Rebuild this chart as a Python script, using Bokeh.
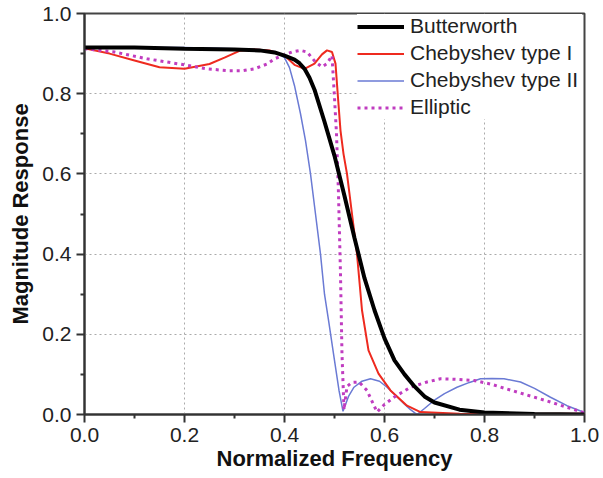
from bokeh.plotting import figure
from bokeh.models import Range1d, FixedTicker, Legend, LegendItem
from bokeh.embed import file_html
from bokeh.resources import INLINE

# Butterworth
bw_f = [0, 0.1, 0.2, 0.3, 0.35, 0.38, 0.40, 0.42, 0.43, 0.44, 0.45, 0.46, 0.48, 0.50, 0.52, 0.54,
        0.56, 0.58, 0.60, 0.62, 0.64, 0.66, 0.68, 0.70, 0.75, 0.80, 0.9, 1.0]
bw_m = [0.915, 0.915, 0.912, 0.91, 0.908, 0.903, 0.895, 0.885, 0.876, 0.862, 0.84, 0.81, 0.73, 0.645,
        0.545, 0.44, 0.34, 0.26, 0.19, 0.135, 0.10, 0.07, 0.045, 0.03, 0.012, 0.005, 0.001, 0.0]

# Chebyshev type I
c1_f = [0, 0.05, 0.1, 0.15, 0.2, 0.25, 0.28, 0.31, 0.34, 0.37, 0.4, 0.42, 0.44, 0.46,
        0.475, 0.485, 0.495, 0.502, 0.507, 0.512, 0.518, 0.525, 0.535, 0.545, 0.555,
        0.568, 0.588, 0.612, 0.645, 0.672, 0.75, 0.85, 1.0]
c1_m = [0.913, 0.900, 0.883, 0.866, 0.862, 0.874, 0.89, 0.907, 0.91, 0.908, 0.895, 0.872,
        0.862, 0.875, 0.898, 0.908, 0.904, 0.875, 0.79, 0.708, 0.65, 0.6, 0.5, 0.4, 0.26,
        0.16, 0.102, 0.06, 0.022, 0.006, 0.002, 0.001, 0.002]

# Chebyshev type II
c2_f = [0, 0.1, 0.2, 0.3, 0.35, 0.38, 0.40, 0.41, 0.42, 0.432, 0.442, 0.452, 0.462, 0.472,
        0.48, 0.489, 0.499, 0.509, 0.517, 0.528, 0.539, 0.555, 0.572, 0.59, 0.605, 0.622,
        0.639, 0.652, 0.665, 0.68, 0.699, 0.72, 0.745, 0.77, 0.792, 0.815, 0.839, 0.872,
        0.9, 0.932, 0.965, 1.0]
c2_m = [0.915, 0.915, 0.915, 0.912, 0.91, 0.905, 0.89, 0.865, 0.82, 0.75, 0.683, 0.60,
        0.50, 0.40, 0.30, 0.227, 0.143, 0.06, 0.008, 0.045, 0.068, 0.083, 0.089, 0.083,
        0.068, 0.048, 0.027, 0.012, 0.0, 0.015, 0.035, 0.052, 0.068, 0.08, 0.089, 0.09,
        0.089, 0.081, 0.065, 0.043, 0.022, 0.005]

# Elliptic
el_f = [0, 0.06, 0.125, 0.19, 0.245, 0.29, 0.315, 0.34, 0.365, 0.38, 0.40, 0.415, 0.432,
        0.445, 0.462, 0.475, 0.485, 0.495, 0.500, 0.504, 0.508, 0.512, 0.515, 0.519, 0.525,
        0.535, 0.549, 0.565, 0.585, 0.6, 0.619, 0.652, 0.685, 0.712, 0.74, 0.779, 0.812,
        0.865, 0.932, 1.0]
el_m = [0.912, 0.904, 0.887, 0.874, 0.862, 0.857, 0.857, 0.862, 0.874, 0.887, 0.897, 0.904,
        0.908, 0.904, 0.879, 0.867, 0.875, 0.895, 0.79, 0.70, 0.55, 0.35, 0.15, 0.012, 0.07,
        0.08, 0.081, 0.06, 0.006, 0.025, 0.043, 0.068, 0.081, 0.089, 0.088, 0.085, 0.076,
        0.056, 0.031, 0.004]

major_ticks = [0.0, 0.2, 0.4, 0.6, 0.8, 1.0]
minor_ticks = [0.1, 0.3, 0.5, 0.7, 0.9]

FONT = "Liberation Sans"

p = figure(width=603, height=478, output_backend="svg", toolbar_location=None,
           x_range=Range1d(0, 1), y_range=Range1d(0, 1),
           min_border_left=84, min_border_right=19, min_border_top=13, min_border_bottom=64)
p.background_fill_color = "white"
p.border_fill_color = "white"
p.outline_line_color = "#444444"
p.outline_line_width = 2

for ax in (p.xaxis[0], p.yaxis[0]):
    ax.ticker = FixedTicker(ticks=major_ticks, minor_ticks=minor_ticks)
    ax.axis_line_color = "#333333"
    ax.axis_line_width = 2
    ax.major_tick_line_color = "#333333"
    ax.major_tick_line_width = 2
    ax.minor_tick_line_color = "#333333"
    ax.minor_tick_line_width = 2
    ax.major_tick_out = 8
    ax.major_tick_in = 0
    ax.minor_tick_out = 4
    ax.minor_tick_in = 0
    ax.major_label_text_font = FONT
    ax.major_label_text_font_size = "21px"
    ax.major_label_text_color = "#222222"
    ax.axis_label_text_font = FONT
    ax.axis_label_text_font_size = "22px"
    ax.axis_label_text_font_style = "bold"
    ax.axis_label_text_color = "#111111"

p.xaxis[0].axis_label = "Normalized Frequency"
p.yaxis[0].axis_label = "Magnitude Response"
p.xaxis[0].major_label_standoff = 5
p.xaxis[0].axis_label_standoff = 1
p.yaxis[0].major_label_standoff = 5
p.yaxis[0].axis_label_standoff = 6
p.xaxis[0].major_label_overrides = {t: f"{t:.1f}" for t in major_ticks}
p.yaxis[0].major_label_overrides = {t: f"{t:.1f}" for t in major_ticks}

for g in (p.xgrid[0], p.ygrid[0]):
    g.grid_line_color = "#aaaaaa"
    g.grid_line_width = 1
    g.grid_line_dash = "2 3"

r_c2 = p.line(c2_f, c2_m, line_color="#6a7ad4", line_width=1.5)
r_c1 = p.line(c1_f, c1_m, line_color="#ee2a1f", line_width=2)
r_el = p.line(el_f, el_m, line_color="#c03cc0", line_width=3, line_dash="3 4")
r_bw = p.line(bw_f, bw_m, line_color="#000000", line_width=4)

legend = Legend(items=[
    LegendItem(label="Butterworth", renderers=[r_bw]),
    LegendItem(label="Chebyshev type I", renderers=[r_c1]),
    LegendItem(label="Chebyshev type II", renderers=[r_c2]),
    LegendItem(label="Elliptic", renderers=[r_el]),
], location=(273, 295))
legend.margin = 0
legend.padding = 3
legend.spacing = 3
legend.glyph_width = 47
legend.glyph_height = 23
legend.label_height = 23
legend.label_width = 172
legend.label_standoff = 6
legend.label_text_font = FONT
legend.label_text_font_size = "21px"
legend.label_text_color = "#222222"
legend.border_line_color = None
legend.background_fill_color = "white"
legend.background_fill_alpha = 1.0
p.add_layout(legend)

open("out.html", "w").write(file_html(p, INLINE))
